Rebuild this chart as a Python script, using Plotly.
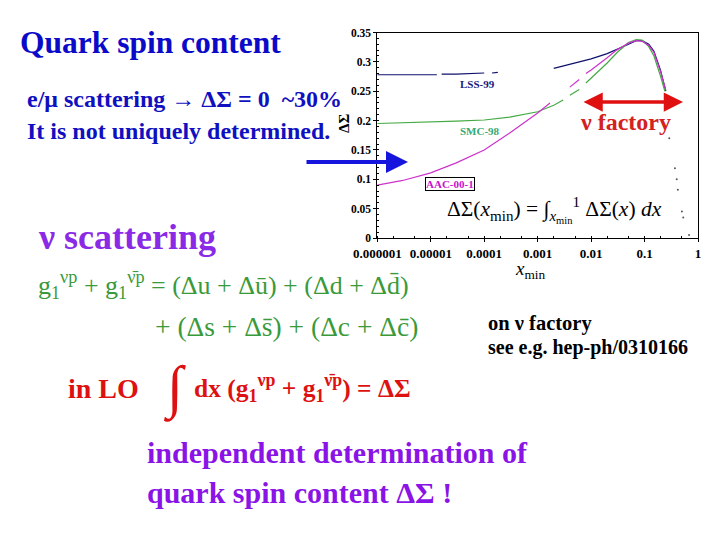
import plotly.graph_objects as go

# ---- data ----
x_lss = [1e-6, 3e-6, 1.3e-5, None, 1.6e-5, 3e-5, 1e-4, None, 1.4e-4, 1.8e-4, None, 2e-3, 3e-3, 6e-3, 0.01, 0.02, 0.035, 0.05, 0.07, 0.09, 0.12, 0.15, 0.2, 0.25]
y_lss = [0.278, 0.278, 0.278, None, 0.279, 0.279, 0.281, None, 0.281, 0.282, None, 0.289, 0.293, 0.299, 0.305, 0.314, 0.323, 0.330, 0.336, 0.336, 0.330, 0.318, 0.285, 0.250]

x_smc = [1e-6, 3e-6, 1e-5, 3e-5, 1e-4, 3e-4, 1e-3, 2e-3, 3e-3, None, 4e-3, 6e-3, None, 8e-3, 0.01, 0.02, 0.03, 0.05, 0.07, 0.09, 0.12, 0.15, 0.2, 0.24]
y_smc = [0.195, 0.196, 0.197, 0.199, 0.201, 0.206, 0.215, 0.226, 0.235, None, 0.243, 0.253, None, 0.264, 0.272, 0.298, 0.315, 0.333, 0.338, 0.337, 0.326, 0.310, 0.275, 0.250]

x_aac = [1e-6, 3e-6, 1e-5, 3e-5, 1e-4, 3e-4, 1e-3, 1.7e-3, None, 4e-3, 6e-3, None, 8e-3, 0.01, 0.02, 0.03, 0.05, 0.07, 0.09, 0.12, 0.15, 0.2, 0.25]
y_aac = [0.090, 0.098, 0.111, 0.128, 0.150, 0.179, 0.213, 0.230, None, 0.257, 0.270, None, 0.280, 0.286, 0.307, 0.320, 0.332, 0.336, 0.335, 0.328, 0.316, 0.283, 0.252]

x_tail = [0.29, 0.37, 0.40, 0.42, 0.50, 0.53, 0.68]
y_tail = [0.170, 0.119, 0.100, 0.082, 0.045, 0.035, 0.005]

x_ticks = [1e-6, 1e-5, 1e-4, 1e-3, 1e-2, 1e-1, 1]
x_ticktext = ["0.000001", "0.00001", "0.0001", "0.001", "0.01", "0.1", "1"]
y_ticks = [0, 0.05, 0.1, 0.15, 0.2, 0.25, 0.3, 0.35]
y_ticktext = ["0", "0.05", "0.1", "0.15", "0.2", "0.25", "0.3", "0.35"]

SERIF = "Liberation Serif"

fig = go.Figure()
fig.add_trace(go.Scatter(x=x_lss, y=y_lss, mode="lines", line=dict(color="#10106e", width=1.2), connectgaps=False))
fig.add_trace(go.Scatter(x=x_smc, y=y_smc, mode="lines", line=dict(color="#44aa44", width=1.2), connectgaps=False))
fig.add_trace(go.Scatter(x=x_aac, y=y_aac, mode="lines", line=dict(color="#cc33cc", width=1.2), connectgaps=False))
fig.add_trace(go.Scatter(x=x_tail, y=y_tail, mode="markers", marker=dict(color="#556", size=2)))

W, H = 720, 540
OFF = 8  # page body margin shifts the figure by 8 px
def px(x):
    return (x - OFF) / W
def py(y):
    return 1 - (y - OFF) / H

x0, x1 = 377.3, 698
y0, y1 = 238, 32.5

fig.update_layout(
    template="none",
    width=W, height=H, margin=dict(l=0, r=0, t=0, b=0, pad=0), autosize=False,
    paper_bgcolor="white", plot_bgcolor="white", showlegend=False,
    xaxis=dict(type="log", range=[-6, 0], domain=[px(x0), px(x1)], automargin=False,
               tickvals=x_ticks, ticktext=["<b>%s</b>" % t for t in x_ticktext],
               tickfont=dict(family=SERIF, size=13, color="black"),
               showgrid=False, zeroline=False, showline=True, linecolor="black", linewidth=1,
               mirror=True, ticks="outside", ticklen=3, tickcolor="black",
               minor=dict(ticks="inside", ticklen=2, tickcolor="black", showgrid=False)),
    yaxis=dict(range=[0, 0.35], domain=[py(y0), py(y1)], automargin=False,
               tickvals=y_ticks, ticktext=["<b>%s</b>" % t for t in y_ticktext],
               tickfont=dict(family=SERIF, size=11.5, color="black"),
               showgrid=False, zeroline=False, showline=True, linecolor="black", linewidth=1,
               mirror=True, ticks="outside", ticklen=3, tickcolor="black",
               minor=dict(ticks="inside", ticklen=2, tickcolor="black", dtick=0.01, showgrid=False)),
)

def txt(x, y, text, size, color, bold=True, anchor="left", family=SERIF, angle=0, **kw):
    fig.add_annotation(x=px(x), y=py(y), xref="paper", yref="paper", text=("<b>%s</b>" % text) if bold else text,
                       showarrow=False, xanchor=anchor, yanchor="middle", textangle=angle,
                       font=dict(family=family, size=size, color=color), **kw)

# slide texts
txt(18, 43, "Quark spin content", 31.5, "#0a0ac8")
txt(25, 99, "e/μ scattering → ΔΣ = 0  ~30%", 24, "#1010c0")
txt(25, 131, "It is not uniquely determined.", 24, "#1010c0")
txt(36, 237, "ν scattering", 36, "#8a2ae6")
txt(36, 285, "g<sub>1</sub><sup>νp</sup> + g<sub>1</sub><sup>ν̄p</sup> = (Δu + Δū) + (Δd + Δd̄)", 26, "#3a9a3a", bold=False)
txt(420, 326, "+ (Δs + Δs̄) + (Δc + Δc̄)", 27.5, "#3a9a3a", bold=False, anchor="right")
txt(66, 388, "in LO", 28, "#dd1111")
txt(161, 388, "∫", 58, "#dd1111", bold=False)
txt(192, 388, "dx (g<sub>1</sub><sup>νp</sup> + g<sub>1</sub><sup>ν̄p</sup>) = ΔΣ", 25.5, "#dd1111")
txt(145, 452, "independent determination of", 30, "#8a14e6")
txt(145, 492, "quark spin content ΔΣ !", 30, "#8a14e6")
txt(486, 323, "on ν factory", 20.5, "black")
txt(486, 347, "see e.g. hep-ph/0310166", 20, "black")

# chart labels
txt(344, 124, "ΔΣ", 15, "black", anchor="center", angle=-90)
txt(530, 270, "<i>x</i><sub>min</sub>", 19, "black", bold=False, anchor="center")
txt(458, 84, "LSS-99", 11, "#1a1a80")
txt(458, 131, "SMC-98", 11, "#33aa77")
fig.add_annotation(x=px(450), y=py(184), xref="paper", yref="paper", text="<b>AAC-00-1</b>", showarrow=False,
                   xanchor="center", yanchor="middle", font=dict(family=SERIF, size=11, color="#cc11cc"),
                   bordercolor="black", borderwidth=1, borderpad=0, bgcolor="white")
txt(445, 210, "ΔΣ(<i>x</i><sub>min</sub>) = ∫<sub><i>x</i><sub>min</sub></sub><sup>1</sup> ΔΣ(<i>x</i>) <i>dx</i>", 21.5, "black", bold=False)
txt(578, 122, "ν factory", 24, "#d42020")

# arrows
fig.add_annotation(x=px(683), y=py(102), xref="paper", yref="paper", ax=-101, ay=0, text="",
                   showarrow=True, arrowhead=2, arrowside="end+start", arrowwidth=3.5, arrowsize=1.1, arrowcolor="#e01010")
fig.add_annotation(x=px(408), y=py(162), xref="paper", yref="paper", ax=-103, ay=0, text="",
                   showarrow=True, arrowhead=2, arrowwidth=4, arrowsize=1.1, arrowcolor="#1515dd")

fig.write_html("out.html")
